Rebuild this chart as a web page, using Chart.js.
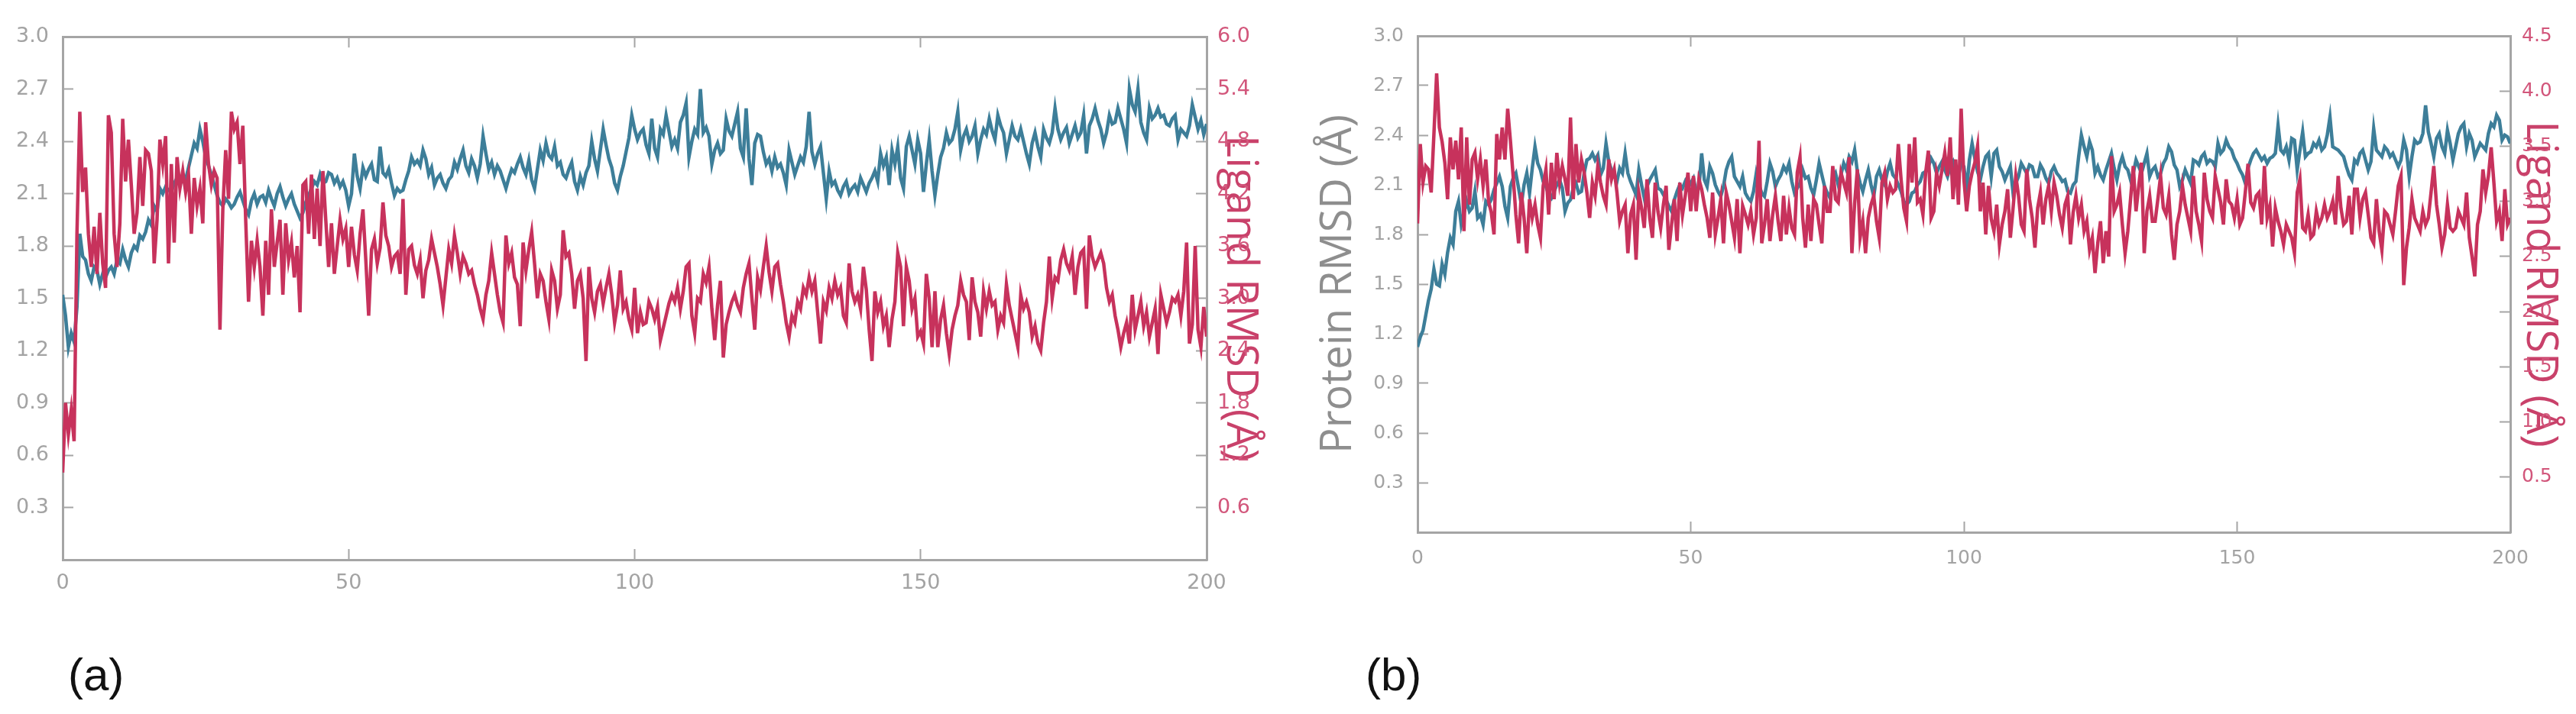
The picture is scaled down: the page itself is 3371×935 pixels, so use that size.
<!DOCTYPE html>
<html>
<head>
<meta charset="utf-8">
<script src="https://cdn.jsdelivr.net/npm/chart.js@4.4.1/dist/chart.umd.min.js"></script>
<style>
    html, body { margin: 0; padding: 0; background: #fff; }
    body { width: 3371px; height: 935px; position: relative; overflow: hidden; }
    canvas { position: absolute; top: 0; }
    #chart-a { left: 0; }
    #chart-b { left: 1690px; }
    .panel-tag {
        position: absolute; top: 854px;
        font-family: 'Liberation Sans', Arial, sans-serif;
        font-size: 60px; line-height: 60px; color: #111;
    }
</style>
</head>
<body>
<canvas id="chart-a" width="1700" height="800"></canvas>
<canvas id="chart-b" width="1681" height="800"></canvas>
<div class="panel-tag" style="left:89px">(a)</div>
<div class="panel-tag" style="left:1787px">(b)</div>
<script>
// 시간축: 0 ~ 200 ns, 0.5 ns 간격
const TIME_STEP_NS = 0.5;
const X_TICKS = [0, 50, 100, 150, 200];
const X_TOP_TICKS = [50, 100, 150];
const PROTEIN_TICKS = [0.3, 0.6, 0.9, 1.2, 1.5, 1.8, 2.1, 2.4, 2.7, 3.0];
const PA_LIGAND_TICKS = [0.6, 1.2, 1.8, 2.4, 3.0, 3.6, 4.2, 4.8, 5.4, 6.0];
const PB_LIGAND_TICKS = [0.5, 1.0, 1.5, 2.0, 2.5, 3.0, 3.5, 4.0, 4.5];
const PROTEIN_TITLE = 'Protein RMSD (Å)';
const LIGAND_TITLE = 'Ligand RMSD (Å)';

// (a) Protein RMSD (Å)
const PA_PROTEIN = [
    1.52,1.40,1.22,1.30,1.25,1.45,1.87,1.74,1.72,1.64,1.60,1.68,1.66,1.58,1.64,1.62,1.66,1.68,1.64,1.72,
    1.70,1.78,1.72,1.68,1.76,1.80,1.78,1.86,1.84,1.88,1.95,1.92,2.03,2.00,2.13,2.10,2.14,2.12,2.11,2.16,
    2.19,2.15,2.20,2.18,2.25,2.32,2.39,2.36,2.47,2.40,2.31,2.26,2.21,2.15,2.09,2.05,2.03,2.07,2.05,2.02,
    2.04,2.08,2.11,2.06,2.01,1.98,2.06,2.10,2.04,2.08,2.09,2.05,2.12,2.07,2.03,2.10,2.14,2.08,2.03,2.07,
    2.10,2.04,2.00,1.96,1.99,2.05,2.09,2.13,2.17,2.15,2.21,2.16,2.17,2.22,2.21,2.16,2.19,2.14,2.17,2.12,
    2.03,2.10,2.33,2.20,2.13,2.25,2.20,2.24,2.27,2.18,2.17,2.37,2.22,2.20,2.24,2.16,2.09,2.13,2.11,2.12,
    2.18,2.23,2.31,2.27,2.29,2.26,2.35,2.30,2.21,2.25,2.15,2.19,2.21,2.16,2.13,2.18,2.20,2.28,2.24,2.30,
    2.35,2.26,2.22,2.30,2.26,2.19,2.27,2.43,2.33,2.24,2.28,2.21,2.26,2.23,2.18,2.13,2.19,2.24,2.22,2.27,
    2.31,2.25,2.21,2.29,2.18,2.13,2.24,2.35,2.29,2.39,2.32,2.30,2.37,2.26,2.28,2.21,2.19,2.24,2.28,2.17,
    2.12,2.20,2.15,2.22,2.26,2.40,2.30,2.23,2.35,2.47,2.38,2.30,2.25,2.16,2.12,2.20,2.26,2.34,2.42,2.55,
    2.47,2.41,2.45,2.47,2.38,2.33,2.53,2.36,2.31,2.47,2.44,2.55,2.46,2.37,2.41,2.36,2.51,2.55,2.62,2.31,
    2.40,2.47,2.44,2.70,2.45,2.48,2.43,2.27,2.35,2.39,2.33,2.35,2.53,2.46,2.43,2.50,2.57,2.36,2.31,2.59,
    2.30,2.15,2.39,2.44,2.43,2.34,2.27,2.30,2.23,2.31,2.25,2.27,2.22,2.15,2.35,2.28,2.21,2.26,2.31,2.28,
    2.37,2.57,2.34,2.27,2.33,2.37,2.22,2.07,2.23,2.15,2.17,2.12,2.09,2.14,2.17,2.10,2.13,2.15,2.11,2.19,
    2.15,2.11,2.16,2.19,2.23,2.17,2.33,2.26,2.31,2.15,2.35,2.27,2.37,2.19,2.13,2.37,2.43,2.35,2.27,2.41,
    2.33,2.11,2.27,2.41,2.23,2.09,2.21,2.31,2.36,2.45,2.39,2.41,2.47,2.57,2.35,2.43,2.47,2.40,2.43,2.49,
    2.33,2.41,2.47,2.44,2.53,2.46,2.41,2.55,2.49,2.45,2.33,2.41,2.49,2.43,2.41,2.47,2.40,2.33,2.27,2.39,
    2.45,2.37,2.31,2.47,2.42,2.39,2.45,2.59,2.47,2.41,2.45,2.48,2.39,2.44,2.49,2.42,2.45,2.55,2.33,2.49,
    2.53,2.59,2.52,2.47,2.39,2.45,2.55,2.50,2.51,2.59,2.53,2.47,2.39,2.70,2.61,2.57,2.70,2.51,2.45,2.41,
    2.59,2.53,2.55,2.59,2.54,2.55,2.50,2.49,2.53,2.55,2.41,2.47,2.45,2.43,2.49,2.61,2.54,2.47,2.52,2.44,
    2.50
];

// (a) Ligand RMSD (Å), 오른쪽 축
const PA_LIGAND = [
    1.00,1.80,1.44,1.72,1.36,3.74,5.14,4.22,4.50,3.74,3.36,3.82,3.28,3.98,3.40,3.12,5.10,4.90,3.74,3.36,
    3.86,5.06,4.34,4.82,4.30,3.74,3.98,4.62,4.06,4.70,4.66,4.46,3.40,3.90,4.82,4.54,4.86,3.40,4.54,3.64,
    4.62,4.26,4.46,4.22,4.42,3.74,4.38,4.06,4.26,3.86,5.02,4.54,4.30,4.46,4.38,2.64,4.02,4.70,4.14,5.14,
    4.94,5.02,4.54,4.98,3.90,2.96,3.66,3.36,3.66,3.36,2.80,3.66,3.04,4.02,3.36,3.64,3.90,3.04,3.86,3.44,
    3.64,3.24,3.60,2.84,4.30,4.34,3.74,4.42,3.68,4.26,3.60,4.46,3.90,3.36,3.86,3.28,3.60,3.90,3.68,3.80,
    3.36,3.82,3.50,3.32,3.74,4.02,3.44,2.80,3.56,3.68,3.40,3.58,4.10,3.72,3.60,3.36,3.48,3.52,3.28,4.14,
    3.04,3.56,3.60,3.38,3.28,3.44,3.00,3.32,3.44,3.68,3.52,3.36,3.16,2.92,3.24,3.56,3.40,3.72,3.52,3.28,
    3.48,3.40,3.28,3.32,3.16,3.04,2.88,2.76,3.04,3.20,3.52,3.28,3.04,2.84,2.72,3.72,3.40,3.52,3.24,3.16,
    2.68,3.64,3.32,3.56,3.76,3.40,3.00,3.28,3.20,2.96,2.76,3.32,3.20,2.88,3.04,3.78,3.48,3.52,3.28,2.88,
    3.20,3.28,3.00,2.28,3.36,3.00,2.84,3.08,3.16,2.94,3.12,3.28,3.04,2.72,2.92,3.32,2.88,2.96,2.76,2.64,
    3.12,2.60,2.84,2.70,2.72,2.96,2.88,2.76,2.90,2.52,2.66,2.80,2.94,3.04,2.96,3.12,2.88,3.08,3.36,3.40,
    2.80,2.60,3.00,2.96,3.28,3.18,3.36,2.88,2.52,2.92,3.20,2.32,2.70,2.84,2.96,3.04,2.92,2.84,3.12,3.28,
    3.40,3.00,2.64,3.24,3.10,3.36,3.60,3.30,3.08,3.36,3.40,3.16,2.96,2.72,2.56,2.80,2.72,2.96,2.88,3.12,
    3.04,3.24,3.08,3.20,2.84,2.48,2.96,2.86,3.12,3.00,3.20,3.04,3.12,2.80,2.72,3.40,3.08,2.96,3.04,2.88,
    3.36,3.10,2.64,2.28,3.08,2.84,2.96,2.68,2.80,2.44,2.76,2.96,3.52,3.36,2.68,3.36,3.20,2.88,3.00,2.56,
    2.62,2.48,3.28,3.00,2.44,3.08,2.44,2.76,2.92,2.60,2.36,2.64,2.80,2.92,3.20,3.04,2.96,2.52,3.24,2.96,
    2.84,2.56,3.08,2.88,3.08,2.92,2.96,2.64,2.80,2.72,3.16,2.92,2.76,2.60,2.44,3.04,2.88,2.96,2.84,2.56,
    2.68,2.48,2.40,2.72,2.96,3.48,3.00,3.24,3.20,3.44,3.56,3.40,3.32,3.48,3.04,3.36,3.52,3.56,2.88,3.72,
    3.48,3.36,3.44,3.52,3.40,3.12,2.96,3.04,2.80,2.64,2.44,2.60,2.72,2.48,3.04,2.64,2.80,2.96,2.68,2.84,
    2.56,2.72,2.88,2.36,3.04,2.88,2.72,2.84,3.00,2.96,3.04,2.80,3.08,3.64,2.48,2.70,3.60,2.64,2.44,2.90,
    2.56
];

// (b) Protein RMSD (Å)
const PB_PROTEIN = [
    1.12,1.18,1.22,1.31,1.40,1.47,1.59,1.50,1.49,1.62,1.56,1.69,1.78,1.74,1.94,2.00,1.86,1.93,2.00,1.94,
    1.96,2.06,1.90,1.92,1.86,2.00,1.98,2.01,2.07,2.11,2.15,2.09,1.97,1.90,2.09,2.14,2.17,2.08,1.98,2.10,
    2.17,2.05,2.20,2.33,2.23,2.19,2.12,2.09,2.04,2.02,2.06,2.10,2.13,2.08,1.94,1.99,2.01,2.08,2.11,2.05,
    2.06,2.17,2.25,2.26,2.29,2.25,2.28,2.16,2.20,2.35,2.24,2.19,2.16,2.12,2.20,2.17,2.29,2.17,2.12,2.08,
    2.04,2.19,2.10,2.02,2.09,2.13,2.16,2.19,2.08,2.07,2.04,2.01,1.97,1.94,2.01,2.06,2.10,2.08,2.12,2.08,
    2.11,2.14,2.06,2.08,2.29,2.13,2.09,2.21,2.17,2.10,2.06,2.03,2.09,2.19,2.24,2.27,2.15,2.12,2.09,2.15,
    2.05,2.02,2.00,2.06,2.17,2.10,2.05,2.03,2.12,2.23,2.18,2.09,2.13,2.16,2.21,2.18,2.23,2.12,2.05,2.08,
    2.11,2.19,2.14,2.15,2.08,2.04,2.13,2.23,2.16,2.09,2.05,2.02,2.14,2.17,2.10,2.16,2.23,2.19,2.27,2.24,
    2.31,2.18,2.11,2.06,2.13,2.19,2.10,2.03,2.15,2.19,2.13,2.10,2.18,2.23,2.16,2.14,2.10,2.06,2.00,1.98,
    2.00,2.05,2.06,2.10,2.12,2.17,2.18,2.21,2.26,2.23,2.17,2.21,2.24,2.19,2.15,2.21,2.24,2.18,2.15,2.23,
    2.21,2.07,2.25,2.35,2.26,2.18,2.13,2.21,2.27,2.29,2.15,2.29,2.31,2.21,2.18,2.13,2.17,2.21,2.05,2.11,
    2.15,2.23,2.20,2.17,2.22,2.21,2.15,2.15,2.22,2.19,2.14,2.11,2.18,2.21,2.17,2.15,2.12,2.13,2.06,2.05,
    2.10,2.12,2.27,2.40,2.33,2.27,2.36,2.31,2.17,2.21,2.16,2.13,2.19,2.24,2.29,2.20,2.13,2.22,2.27,2.21,
    2.19,2.13,2.17,2.25,2.21,2.17,2.23,2.29,2.15,2.19,2.21,2.15,2.17,2.23,2.26,2.33,2.30,2.22,2.19,2.09,
    2.13,2.19,2.15,2.11,2.25,2.24,2.22,2.27,2.29,2.23,2.25,2.24,2.21,2.35,2.29,2.31,2.37,2.33,2.31,2.26,
    2.23,2.19,2.16,2.11,2.20,2.25,2.29,2.31,2.28,2.25,2.27,2.23,2.26,2.27,2.29,2.46,2.31,2.29,2.33,2.25,
    2.38,2.37,2.19,2.31,2.42,2.27,2.29,2.30,2.35,2.33,2.37,2.31,2.33,2.40,2.51,2.33,2.32,2.31,2.29,2.27,
    2.21,2.16,2.13,2.25,2.23,2.29,2.31,2.25,2.19,2.24,2.44,2.31,2.29,2.27,2.33,2.31,2.27,2.29,2.25,2.21,
    2.25,2.37,2.31,2.15,2.27,2.37,2.35,2.36,2.41,2.58,2.42,2.35,2.27,2.38,2.41,2.33,2.29,2.43,2.35,2.25,
    2.33,2.41,2.45,2.47,2.33,2.41,2.37,2.27,2.31,2.35,2.33,2.31,2.41,2.47,2.45,2.52,2.49,2.37,2.40,2.39,
    2.35
];

// (b) Ligand RMSD (Å), 오른쪽 축
const PB_LIGAND = [
    2.80,3.52,3.17,3.32,3.29,3.08,3.61,4.16,3.67,3.54,3.35,3.02,3.58,3.29,3.55,3.20,3.67,2.73,3.58,2.97,
    3.38,3.44,3.20,3.38,3.14,3.38,3.00,2.90,2.70,3.61,3.38,3.67,3.38,3.84,3.55,3.23,2.88,2.62,3.08,2.85,
    2.53,3.02,2.85,2.97,2.79,2.67,3.14,3.29,2.88,3.35,3.02,3.44,3.17,3.32,3.20,3.05,3.76,3.02,3.52,3.17,
    3.38,3.26,3.08,2.85,3.17,3.05,3.32,3.17,3.05,2.97,3.38,3.20,3.29,3.08,2.82,2.91,2.97,2.53,2.88,2.97,
    2.47,3.08,2.94,2.76,3.20,2.85,2.67,3.17,2.91,2.76,2.97,3.14,2.56,2.79,3.02,2.64,3.17,2.88,3.05,3.26,
    2.91,3.23,2.91,3.20,3.11,2.97,2.85,2.67,3.08,2.70,2.85,3.02,2.62,3.08,2.97,2.82,2.67,3.02,2.53,2.96,
    2.88,2.79,2.91,2.70,2.85,3.55,2.62,2.79,3.02,2.64,2.88,3.05,2.82,2.64,3.05,2.70,2.94,2.76,2.70,3.26,
    3.40,2.85,2.58,2.97,2.64,3.02,2.97,2.79,2.62,3.14,2.91,2.91,3.32,3.02,2.99,3.26,3.17,3.08,3.40,2.53,
    2.98,3.29,2.67,2.82,2.53,2.85,2.97,3.05,2.82,2.67,3.17,3.26,3.02,3.14,3.08,3.11,3.52,3.20,2.94,2.82,
    3.52,3.17,3.58,2.99,3.02,2.88,3.26,3.46,2.85,2.91,3.26,3.14,3.29,3.44,3.23,3.58,3.02,3.38,2.97,3.84,
    3.20,2.91,3.14,3.26,3.35,3.50,2.91,3.17,2.70,3.14,2.84,2.73,2.97,2.61,2.79,2.91,3.11,2.67,2.94,3.23,
    3.05,2.79,2.73,3.29,3.02,2.85,2.58,2.94,3.08,2.79,3.02,3.14,2.91,3.17,3.05,2.88,2.76,2.97,3.05,2.61,
    2.90,3.05,2.85,2.97,2.73,2.82,2.56,2.67,2.35,2.62,2.82,2.44,2.73,2.50,3.41,2.91,2.97,3.08,2.79,2.53,
    2.73,3.02,3.32,2.91,3.14,3.35,2.53,2.91,3.05,2.82,2.82,3.02,3.23,2.94,2.88,3.05,2.70,2.47,2.79,2.91,
    3.14,2.97,2.85,2.73,3.23,2.91,2.79,2.64,3.26,3.02,2.91,2.85,3.23,3.11,2.99,2.79,3.20,3.00,2.97,2.85,
    3.02,2.79,2.85,3.08,3.34,2.99,2.94,3.05,3.08,2.79,3.32,2.85,2.96,2.59,2.94,2.82,2.73,2.61,2.79,2.73,
    2.67,2.53,3.08,3.20,2.76,2.73,2.88,2.67,2.70,2.91,2.79,2.85,2.97,2.85,2.91,3.00,2.79,3.23,2.94,2.79,
    2.82,3.05,2.70,3.11,3.11,2.85,3.02,3.08,2.88,2.67,2.62,3.02,2.73,2.56,2.91,2.88,2.79,2.70,2.91,3.14,
    3.23,2.24,2.58,2.76,3.02,2.85,2.79,2.73,2.91,2.79,2.85,3.08,3.32,2.97,2.79,2.58,2.70,2.97,2.76,2.73,
    2.76,2.91,2.85,2.79,3.08,2.67,2.50,2.32,2.79,2.91,3.29,3.08,3.23,3.49,3.17,2.82,2.91,2.64,3.11,2.79,
    2.85
];

// 색상
const PROTEIN_BLUE = '#3d7e99';
const LIGAND_RED = '#c7325c';
const AXIS_GRAY = '#a5a5a5';
const TICK_GRAY = '#a3a3a3';
const TICK_PINK = '#d2567b';
const TITLE_GRAY = '#8e8e8e';
const TITLE_PINK = '#c9416a';

// 축 크기 고정
function fixedSize(size) {
    return scale => {
        if (scale.isHorizontal()) {
            scale.height = size;
        } else {
            scale.width = size;
        }
    };
}

// 눈금 위치를 배열로 지정
function tickList(values) {
    return scale => {
        scale.ticks = values.map(v => ({ value: v }));
    };
}

function toPoints(values) {
    return values.map((v, i) => ({ x: i * TIME_STEP_NS, y: v }));
}

const GRID = {
    display: true,
    drawOnChartArea: false,
    drawTicks: true,
    tickLength: -14,
    tickColor: AXIS_GRAY,
    tickWidth: 2
};
const BORDER = { display: true, color: AXIS_GRAY, width: 3 };

// RMSD 차트 생성
function createRmsdChart(canvasId, p) {
    const ctx = document.getElementById(canvasId).getContext('2d');
    const tickFont = { family: 'DejaVu Sans', size: p.fontSize };
    const titleFont = { family: 'Open Sans', size: 56 };

    return new Chart(ctx, {
        type: 'line',
        data: {
            datasets: [{
                label: 'Ligand',
                data: toPoints(p.ligand),
                yAxisID: 'y1',
                borderColor: LIGAND_RED,
                borderWidth: 4.5,
                pointRadius: 0,
                order: 0
            }, {
                label: 'Protein',
                data: toPoints(p.protein),
                yAxisID: 'y',
                borderColor: PROTEIN_BLUE,
                borderWidth: 4.5,
                pointRadius: 0,
                order: 1
            }]
        },
        options: {
            responsive: false,
            animation: false,
            devicePixelRatio: 1,
            events: [],
            layout: { padding: 0 },
            plugins: {
                legend: { display: false },
                tooltip: { enabled: false }
            },
            scales: {
                x: {
                    type: 'linear',
                    position: 'bottom',
                    min: 0,
                    max: 200,
                    afterBuildTicks: tickList(X_TICKS),
                    afterFit: fixedSize(p.bottom),
                    grid: GRID,
                    border: BORDER,
                    ticks: {
                        autoSkip: false,
                        maxRotation: 0,
                        padding: p.xPad,
                        color: TICK_GRAY,
                        font: tickFont,
                        callback: v => String(v)
                    }
                },
                xTop: {
                    type: 'linear',
                    position: 'top',
                    min: 0,
                    max: 200,
                    afterBuildTicks: tickList(X_TOP_TICKS),
                    afterFit: fixedSize(p.top),
                    grid: GRID,
                    border: BORDER,
                    ticks: { display: false }
                },
                y: {
                    type: 'linear',
                    position: 'left',
                    min: 0,
                    max: 3,
                    afterBuildTicks: tickList(PROTEIN_TICKS),
                    afterFit: fixedSize(p.left),
                    grid: GRID,
                    border: BORDER,
                    ticks: {
                        autoSkip: false,
                        padding: p.leftPad,
                        color: TICK_GRAY,
                        font: tickFont,
                        callback: v => v.toFixed(1)
                    },
                    title: {
                        display: p.showProteinTitle,
                        text: PROTEIN_TITLE,
                        color: TITLE_GRAY,
                        font: titleFont,
                        padding: { top: p.leftTitlePad, bottom: 0 }
                    }
                },
                y1: {
                    type: 'linear',
                    position: 'right',
                    min: 0,
                    max: p.ligandMax,
                    afterBuildTicks: tickList(p.ligandTicks),
                    afterFit: fixedSize(p.right),
                    grid: GRID,
                    border: BORDER,
                    ticks: {
                        autoSkip: false,
                        padding: p.rightPad,
                        color: TICK_PINK,
                        font: tickFont,
                        callback: v => v.toFixed(1)
                    },
                    title: {
                        display: true,
                        text: LIGAND_TITLE,
                        color: TITLE_PINK,
                        font: titleFont,
                        padding: { top: p.rightTitlePad, bottom: 0 }
                    }
                }
            }
        }
    });
}

document.addEventListener('DOMContentLoaded', () => {
    createRmsdChart('chart-a', {
        protein: PA_PROTEIN,
        ligand: PA_LIGAND,
        ligandTicks: PA_LIGAND_TICKS,
        ligandMax: 6,
        left: 82, right: 121, top: 33, bottom: 67,
        fontSize: 27,
        leftPad: 32, rightPad: 28, xPad: 29,
        showProteinTitle: false,
        leftTitlePad: 0,
        rightTitlePad: 44
    });

    createRmsdChart('chart-b', {
        protein: PB_PROTEIN,
        ligand: PB_LIGAND,
        ligandTicks: PB_LIGAND_TICKS,
        ligandMax: 4.5,
        left: 165, right: 86, top: 27, bottom: 103,
        fontSize: 25,
        leftPad: 32, rightPad: 29, xPad: 33,
        showProteinTitle: true,
        leftTitlePad: 28,
        rightTitlePad: 14
    });
});
</script>
</body>
</html>
